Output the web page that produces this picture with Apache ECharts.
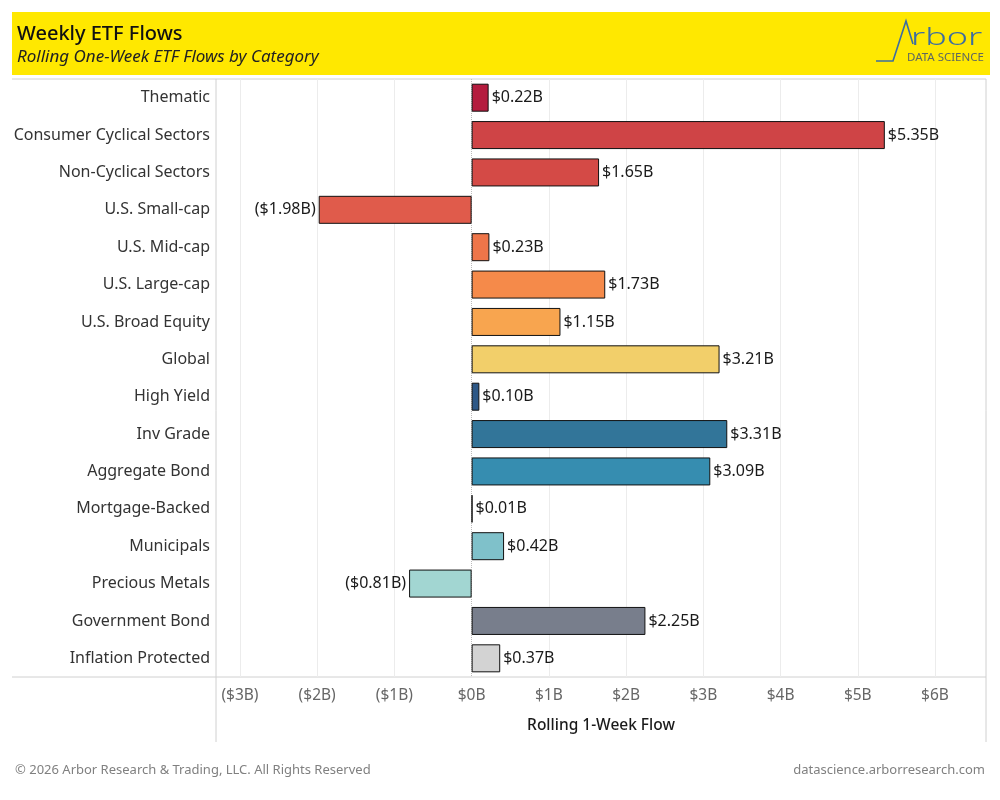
<!DOCTYPE html>
<html><head><meta charset="utf-8">
<script src="https://cdn.jsdelivr.net/npm/echarts@6/dist/echarts.min.js"></script>
<style>html,body{margin:0;padding:0;background:#fff}#c{width:1000px;height:800px}</style>
</head><body><div id="c"></div>
<script>
const categories = ["Thematic","Consumer Cyclical Sectors","Non-Cyclical Sectors","U.S. Small-cap","U.S. Mid-cap","U.S. Large-cap","U.S. Broad Equity","Global","High Yield","Inv Grade","Aggregate Bond","Mortgage-Backed","Municipals","Precious Metals","Government Bond","Inflation Protected"];
const flows = [0.22,5.35,1.65,-1.98,0.23,1.73,1.15,3.21,0.10,3.31,3.09,0.01,0.42,-0.81,2.25,0.37];
const barColors = ["#b41c3e","#cf4446","#d44a46","#e05b4b","#ee7549","#f58a4a","#f8a54f","#f2cf6a","#2d5887","#327599","#368db0","#1f3f5f","#7fc1ca","#a2d6d2","#787e8c","#d3d3d3"];
const tickValues = [-3,-2,-1,0,1,2,3,4,5,6];
const xMin = -3.31, xMax = 6.66;
const titleText = "Weekly ETF Flows";
const subtitleText = "Rolling One-Week ETF Flows by Category";
const axisTitle = "Rolling 1-Week Flow";
const footerLeft = "\u00a9 2026 Arbor Research & Trading, LLC. All Rights Reserved";
const footerRight = "datascience.arborresearch.com";

function money(v){
  const s = "$" + Math.abs(v).toFixed(0) + "B";
  return v < 0 ? "(" + s + ")" : s;
}
function money2(v){
  const s = "$" + Math.abs(v).toFixed(2) + "B";
  return v < 0 ? "(" + s + ")" : s;
}
const FONT = "Noto Sans";
const chart = echarts.init(document.getElementById('c'), null, {renderer:'canvas'});
const data = flows.map((v,i)=>({
  value: v,
  itemStyle:{color: barColors[i]},
  label:{position: v < 0 ? 'left' : 'right'}
}));
chart.setOption({
  backgroundColor:'#fff',
  animation:false,
  textStyle:{fontFamily:FONT},
  grid:{left:216, right:14, top:79, bottom:123, containLabel:false},
  xAxis:{
    type:'value', min:xMin, max:xMax,
    axisLine:{show:false}, axisTick:{show:false, customValues:tickValues},
    splitLine:{show:false},
    axisLabel:{customValues:tickValues, formatter:money, color:'#666', fontSize:15.5, margin:11, fontFamily:FONT},
    name:axisTitle, nameLocation:'middle', nameGap:41,
    nameTextStyle:{color:'#1a1a1a', fontSize:15.5, fontWeight:500, fontFamily:FONT}
  },
  yAxis:{
    type:'category', data:categories, inverse:true,
    axisLine:{show:false}, axisTick:{show:false}, splitLine:{show:false},
    axisLabel:{color:'#333', fontSize:16, margin:6, fontFamily:FONT}
  },
  series:[
    {
      type:'bar', data:tickValues.map(()=>null), silent:true, z:1,
      markLine:{symbol:'none', silent:true, z:1, label:{show:false},
        data: tickValues.map(t=>({xAxis:t, lineStyle: t===0 ? {color:'#bbb', type:'dotted', width:1} : {color:'#ececec', type:'solid', width:1}}))}
    },
    {
      type:'bar', data:data, barWidth:28, barGap:'-100%', z:5,
      itemStyle:{borderColor:'#111', borderWidth:1},
      label:{show:true, formatter:p=>money2(p.value), color:'#1a1a1a', fontSize:16, distance:3, fontFamily:FONT}
    }
  ],
  graphic:[
    {type:'rect', shape:{x:12,y:12,width:978,height:63}, style:{fill:'#ffe800'}, z:-1},
    {type:'text', style:{x:17,y:34, text:titleText, font:'500 20px "Noto Sans"', fill:'#111', textVerticalAlign:'middle'}},
    {type:'text', style:{x:17,y:57, text:subtitleText, font:'italic 17px "Noto Sans"', fill:'#222', textVerticalAlign:'middle'}},
    {type:'polyline', shape:{points:[[876,61],[893,61],[906,21],[913,44]]}, style:{stroke:'#3d6da0', lineWidth:1.6, fill:null}},
    {type:'text', x:911, y:50, scaleX:1.5, style:{x:0,y:0, text:'rbor', font:'300 24px "Noto Sans"', fill:'#3d6da0', textVerticalAlign:'bottom'}},
    {type:'text', style:{x:907,y:58, text:'DATA SCIENCE', font:'11.5px "Noto Sans"', fill:'#5f6760', textVerticalAlign:'middle'}},
    {type:'line', shape:{x1:12,y1:79,x2:986,y2:79}, style:{stroke:'#d0d0d0', lineWidth:1}},
    {type:'line', shape:{x1:12,y1:677,x2:986,y2:677}, style:{stroke:'#d0d0d0', lineWidth:1}},
    {type:'line', shape:{x1:216,y1:79,x2:216,y2:742}, style:{stroke:'#d0d0d0', lineWidth:1}},
    {type:'line', shape:{x1:986,y1:79,x2:986,y2:742}, style:{stroke:'#d0d0d0', lineWidth:1}},
    {type:'text', style:{x:15,y:770, text:footerLeft, font:'13px "Noto Sans"', fill:'#808080', textVerticalAlign:'middle'}},
    {type:'text', style:{x:985,y:770, text:footerRight, font:'13px "Noto Sans"', fill:'#808080', textAlign:'right', textVerticalAlign:'middle'}}
  ]
});
</script></body></html>
